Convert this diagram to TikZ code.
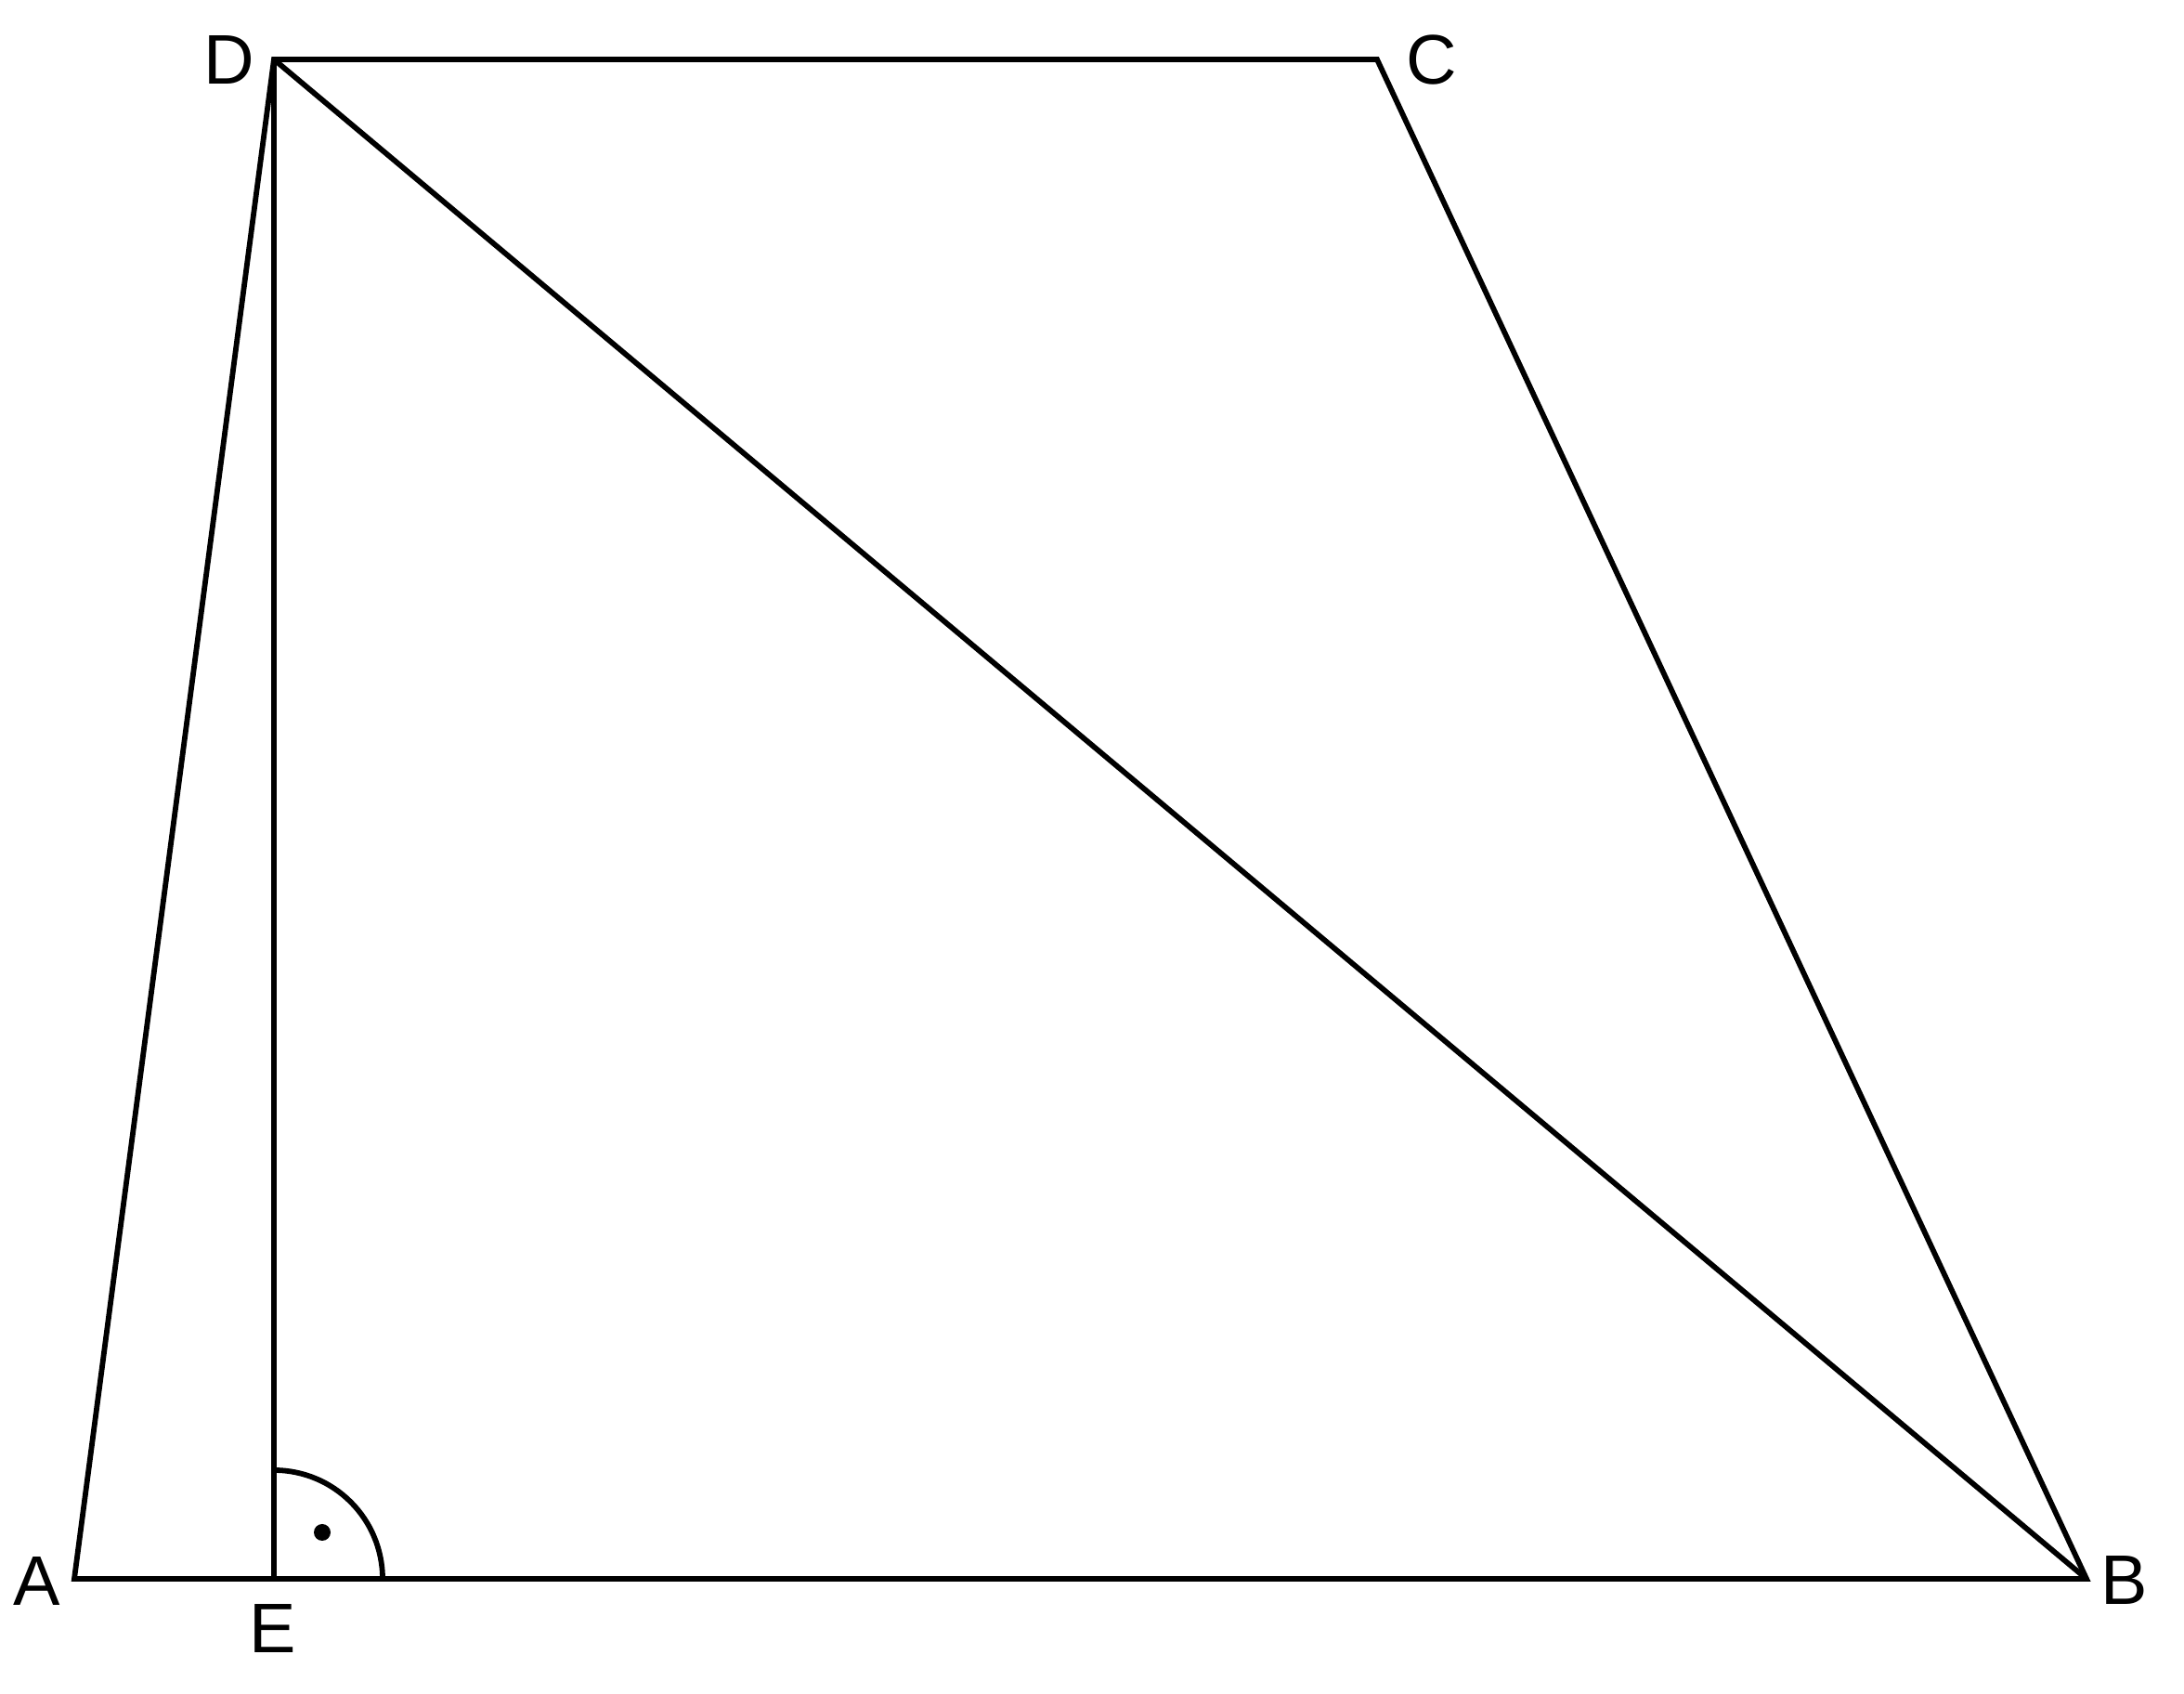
\documentclass[tikz,border=0pt]{standalone}
\usepackage{fontspec}
\setmainfont{Liberation Sans}
\begin{document}
\begin{tikzpicture}[x=1cm,y=1cm,
  edge/.style={line width=1.65pt,black,line join=miter},
  lbl/.style={font=\fontsize{21.5}{24}\selectfont,inner sep=0pt}]
\useasboundingbox (0,0) rectangle (23.52,18.24);
\coordinate (A) at (0.80,1.24);
\coordinate (B) at (22.47,1.24);
\coordinate (C) at (14.83,17.60);
\coordinate (D) at (2.95,17.60);
\coordinate (E) at (2.95,1.24);
\draw[edge] (A) -- (B) -- (C) -- (D) -- cycle;
\draw[edge] (D) -- (E);
\draw[edge] (D) -- (B);
\draw[edge] ([xshift=1.17cm]E) arc[start angle=0,end angle=90,radius=1.17];
\fill (3.47,1.74) circle[radius=0.09];
\node[lbl] (lA) at (0.40,1.21) {A};
\node[lbl] (lB) at (22.88,1.22) {B};
\node[lbl] (lC) at (15.42,17.59) {C};
\node[lbl] (lD) at (2.47,17.59) {D};
\node[lbl] (lE) at (2.94,0.70) {E};
\end{tikzpicture}
\end{document}
